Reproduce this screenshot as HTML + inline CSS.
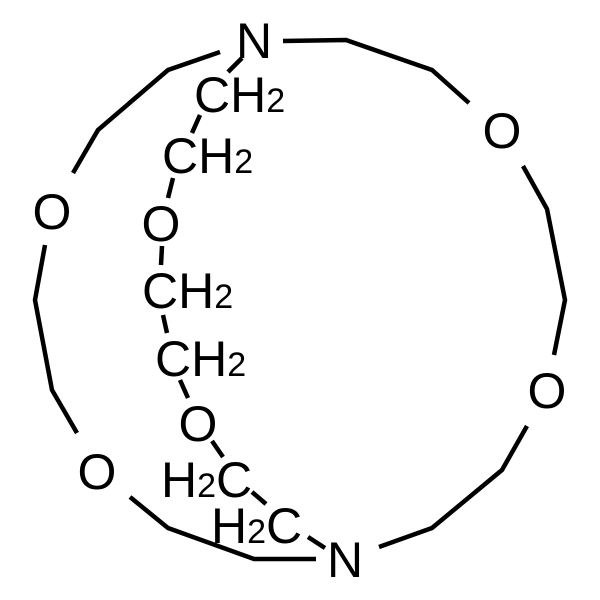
<!DOCTYPE html>
<html><head><style>html,body{margin:0;padding:0;background:#fff;width:600px;height:600px;overflow:hidden}</style></head>
<body>
<svg width="600" height="600" viewBox="0 0 600 600" xmlns="http://www.w3.org/2000/svg">
<g fill="none" stroke="#000" stroke-width="4.5" stroke-linecap="butt" stroke-linejoin="miter">
<polyline points="283,41 346,40 432,70 469,103"/>
<polyline points="523,166 547,209 565,300 554,355"/>
<polyline points="527,426 502,470 432,528 379,547"/>
<polyline points="220,52 168,70 98,130 73,173"/>
<polyline points="45,245 35,300 52,390 77,433"/>
<polyline points="130,497 168,528 254,559 316,559"/>
<line x1="242" y1="58" x2="228" y2="72"/>
<line x1="200" y1="115" x2="192" y2="133"/>
<line x1="173" y1="178" x2="168" y2="198"/>
<line x1="162" y1="246" x2="161" y2="265"/>
<line x1="163" y1="315" x2="167" y2="333"/>
<line x1="180" y1="380" x2="188" y2="398"/>
<line x1="212" y1="441" x2="223" y2="457"/>
<line x1="252" y1="492" x2="266" y2="504"/>
<line x1="308" y1="537" x2="325" y2="548"/>
</g>
<g font-family="Liberation Sans, Arial, sans-serif" font-size="50" fill="#000">
<text x="254" y="58" text-anchor="middle">N</text>
<text x="345" y="577" text-anchor="middle">N</text>
<text x="502" y="148" text-anchor="middle">O</text>
<text x="547" y="408" text-anchor="middle">O</text>
<text x="52" y="229" text-anchor="middle">O</text>
<text x="97" y="489" text-anchor="middle">O</text>
<text x="161" y="241" text-anchor="middle">O</text>
<text x="198" y="441" text-anchor="middle">O</text>
<text x="194" y="112">CH<tspan font-size="34">2</tspan></text>
<text x="162" y="173">CH<tspan font-size="34">2</tspan></text>
<text x="142" y="308">CH<tspan font-size="34">2</tspan></text>
<text x="155" y="376">CH<tspan font-size="34">2</tspan></text>
<text x="161" y="497">H<tspan font-size="34">2</tspan>C</text>
<text x="211" y="543">H<tspan font-size="34">2</tspan>C</text>
</g>
</svg>
</body></html>
